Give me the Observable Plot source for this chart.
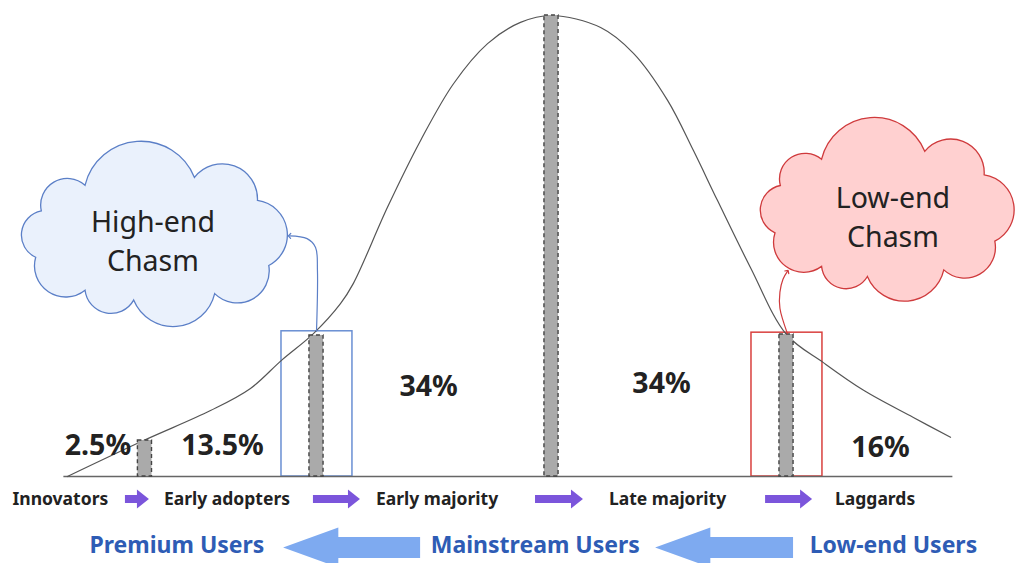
<!DOCTYPE html>
<html>
<head>
<meta charset="utf-8">
<script src="https://cdn.jsdelivr.net/npm/d3@7"></script>
<script src="https://cdn.jsdelivr.net/npm/@observablehq/plot@0.6"></script>
<style>
  html, body { margin: 0; padding: 0; background: #fff; overflow: hidden; }
  #chart svg { display: block; }
</style>
</head>
<body>
<div id="chart"></div>
<script>
// Adoption curve, x in standard deviations from the mean, y as share of the peak
const curveX = [-2.06, -1.736, -1.451, -1.281, -1.149, -1.013, -0.898, -0.843, -0.698, -0.557, -0.417, -0.272, -0.132, 0, 0.209, 0.349, 0.494, 0.604, 0.706, 0.847, 1.0, 1.157, 1.328, 1.54, 1.698];
const curveY = [0, 0.078, 0.143, 0.191, 0.252, 0.31, 0.375, 0.419, 0.584, 0.729, 0.852, 0.939, 0.985, 1, 0.974, 0.918, 0.816, 0.707, 0.599, 0.453, 0.308, 0.247, 0.187, 0.128, 0.085];

// Segment boundaries and the curve height at each
const boundaryX = [-1.73, -1, 0, 1];
const boundaryY = [0.078, 0.306, 1, 0.308];

// Share of adopters in each segment
const shareLabels = ["2.5%", "13.5%", "34%", "34%", "16%"];
const shareX = [-1.93, -1.40, -0.523, 0.468, 1.40];
const shareY = [0.066, 0.066, 0.195, 0.2, 0.062];

// Segment names along the axis, and the arrows between them
const stageNames = ["Innovators", "Early adopters", "Early majority", "Late majority", "Laggards"];
const stageX = [-2.09, -1.381, -0.487, 0.494, 1.377];
const stageArrowStart = [-1.813, -1.013, -0.068, 0.911];
const stageArrowEnd = [-1.711, -0.813, 0.136, 1.111];

// User groups and the arrows pointing from low end to high end
const userGroups = ["Premium Users", "Mainstream Users", "Low-end Users"];
const userX = [-1.594, -0.069, 1.455];
const userArrowTip = [-1.14, 0.443];
const userArrowTail = [-0.557, 1.03];

// The two chasms
const chasmNames = ["High-end\nChasm", "Low-end\nChasm"];
const chasmX = [-1.685, 1.432];
const chasmY = [0.518, 0.572];
const chasmTextX = [-1.696, 1.453];
const chasmTextY = [0.516, 0.568];
const chasmBoxX1 = [-1.149, 0.851];
const chasmBoxX2 = [-0.847, 1.153];
const chasmBoxTop = [0.315, 0.312];
const highLinkX = [-1.0, -0.996, -1.004, -1.04, -1.115];
const highLinkY = [0.315, 0.447, 0.497, 0.516, 0.522];
const lowLinkX = [1.004, 0.972, 0.972, 0.985, 1.004];
const lowLinkY = [0.31, 0.365, 0.4, 0.428, 0.445];

const baselineY = 476, unitX = 235, unitY = 461, meanPx = 551;
const width = 1015, height = 563;

// Scalloped cloud outline drawn as a custom dot symbol
function cloudSymbol(rx, ry, cuts) {
  return {
    draw(ctx) {
      const ex = rx * 0.9, ey = ry * 0.64;
      const pts = cuts.map(a => [ex * Math.cos(a * Math.PI / 180), ey * Math.sin(a * Math.PI / 180)]);
      for (let i = 0; i < pts.length; i++) {
        const [x0, y0] = pts[i], [x1, y1] = pts[(i + 1) % pts.length];
        const c = Math.hypot(x1 - x0, y1 - y0);
        const nx = (y1 - y0) / c, ny = -(x1 - x0) / c;
        const d = -0.16 * c;
        const cx = (x0 + x1) / 2 + nx * d, cy = (y0 + y1) / 2 + ny * d;
        const r = Math.hypot(x0 - cx, y0 - cy);
        if (i === 0) ctx.moveTo(x0, y0);
        ctx.arc(cx, cy, r, Math.atan2(y0 - cy, x0 - cx), Math.atan2(y1 - cy, x1 - cx), false);
      }
      ctx.closePath();
    }
  };
}
const cloudCuts = [-155, -124, -72, -36, 26, 62, 100, 124, 162];

// Block arrow outlines as areas (y1/y2 around a centre line)
function blockArrow(id, from, to, yc, head, bodyHalf, headHalf) {
  const dir = Math.sign(to - from);
  const hb = to - dir * head;
  return [
    {id, x: from, y1: yc - bodyHalf, y2: yc + bodyHalf},
    {id, x: hb, y1: yc - bodyHalf, y2: yc + bodyHalf},
    {id, x: hb, y1: yc - headHalf, y2: yc + headHalf},
    {id, x: to, y1: yc, y2: yc}
  ];
}

const curve = curveX.map((x, i) => ({x, y: curveY[i]}));
const bars = boundaryX.map((x, i) => ({x1: x - 0.03, x2: x + 0.03, y: boundaryY[i]}));
const shares = shareLabels.map((t, i) => ({t, x: shareX[i], y: shareY[i]}));
const stages = stageNames.map((t, i) => ({t, x: stageX[i]}));
const users = userGroups.map((t, i) => ({t, x: userX[i]}));
const stageArrows = stageArrowStart.flatMap((s, i) => blockArrow(i, s, stageArrowEnd[i], -0.05, 0.051, 0.0087, 0.0206));
const userArrows = userArrowTail.flatMap((s, i) => blockArrow(i, s, userArrowTip[i], -0.155, 0.235, 0.0228, 0.0434));
const highLink = highLinkX.map((x, i) => ({x, y: highLinkY[i]}));
const lowLink = lowLinkX.map((x, i) => ({x, y: lowLinkY[i]}));

const font = "'Noto Sans', 'Open Sans', sans-serif";

const chart = Plot.plot({
  width, height,
  marginTop: 0, marginRight: 0, marginBottom: 0, marginLeft: 0,
  x: {domain: [-meanPx / unitX, (width - meanPx) / unitX], axis: null},
  y: {domain: [(baselineY - height) / unitY, baselineY / unitY], axis: null},
  style: {fontFamily: font, background: "#fff"},
  marks: [
    // chasm clouds
    Plot.dot([0], {x: chasmX[0], y: chasmY[0], r: 10, symbol: cloudSymbol(140, 99, cloudCuts), fill: "#eaf1fc", stroke: "#5b7fc7", strokeWidth: 1.3}),
    Plot.dot([0], {x: chasmX[1], y: chasmY[1], r: 10, symbol: cloudSymbol(132, 101, cloudCuts), fill: "#ffd0d0", stroke: "#cf3a3c", strokeWidth: 1.3}),
    Plot.text(chasmNames, {x: (d, i) => chasmTextX[i], y: (d, i) => chasmTextY[i], text: d => d, fontSize: 28.5, lineHeight: 1.38, fill: "#222", fontFamily: font}),
    // highlighted chasm boxes
    Plot.rect([0, 1], {x1: i => chasmBoxX1[i], x2: i => chasmBoxX2[i], y1: 0, y2: i => chasmBoxTop[i], fill: "none", stroke: i => ["#6a8fd3", "#d9403e"][i], strokeWidth: 1.5}),
    // baseline and curve
    Plot.ruleY([0], {x1: curveX[0] - 0.015, x2: curveX[curveX.length - 1] + 0.01, stroke: "#666", strokeWidth: 1.5}),
    Plot.line(curve, {x: "x", y: "y", curve: "catmull-rom", stroke: "#555", strokeWidth: 1.2}),
    // segment boundary bars
    Plot.rect(bars, {x1: "x1", x2: "x2", y1: 0, y2: "y", fill: "#aaa", stroke: "#444", strokeWidth: 1.4, strokeDasharray: "4,3"}),
    // connectors from the boxes to the clouds
    Plot.line(highLink, {x: "x", y: "y", curve: "catmull-rom", stroke: "#5b7fc7", strokeWidth: 1.2, markerEnd: "arrow"}),
    Plot.line(lowLink, {x: "x", y: "y", curve: "catmull-rom", stroke: "#cf3a3c", strokeWidth: 1.2, markerEnd: "arrow"}),
    // shares
    Plot.text(shares, {x: "x", y: "y", text: "t", fontSize: 28.5, fontWeight: "bold", fill: "#222", fontFamily: font}),
    // stage labels and arrows
    Plot.text(stages, {x: "x", y: -0.05, text: "t", fontSize: 17.5, fontWeight: "bold", fill: "#222", fontFamily: font}),
    Plot.areaY(stageArrows, {x: "x", y1: "y1", y2: "y2", z: "id", fill: "#7b55db", curve: "linear"}),
    // user groups and arrows
    Plot.areaY(userArrows, {x: "x", y1: "y1", y2: "y2", z: "id", fill: "#7eaaf0", curve: "linear"}),
    Plot.text(users, {x: "x", y: -0.151, text: "t", fontSize: 23, fontWeight: "bold", fill: "#2e5cb5", fontFamily: font})
  ]
});
document.getElementById("chart").appendChild(chart);
</script>
</body>
</html>
